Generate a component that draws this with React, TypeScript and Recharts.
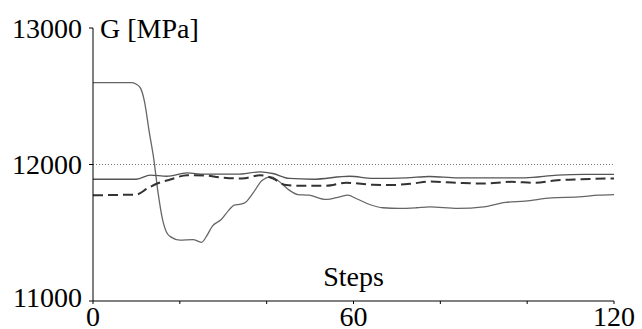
import React from 'react';
import { LineChart, Line, XAxis, YAxis, ReferenceLine, Label } from 'recharts';

const FONT = "'Liberation Serif', 'Times New Roman', Times, serif";

// Tick definitions
const xTicks = [0, 20, 40, 60, 80, 100, 120];
const xLabelTicks = [0, 60, 120];
const yTicks = [11000, 12000, 13000];
const referenceValue = 12000;

// Series 1: thin solid line with the large drop
const stepsA = [0, 9, 10, 11, 11.8, 13, 14, 15, 16, 17, 18, 20, 23, 25, 26.3, 27.5, 29.4, 31.3, 32.5, 34, 35, 36.8, 39, 41, 42.5, 45.2, 47.2, 49.8, 53.7, 56.8, 58.7, 60.6, 63.7, 66.8, 70.6, 74.5, 77.5, 84, 90, 95, 99.5, 105.6, 111.8, 116.4, 120];
const valuesA = [12600, 12600, 12588, 12556, 12470, 12230, 12040, 11790, 11600, 11500, 11468, 11446, 11450, 11430, 11483, 11549, 11593, 11666, 11702, 11710, 11720, 11788, 11885, 11909, 11885, 11812, 11780, 11775, 11744, 11763, 11775, 11751, 11707, 11683, 11678, 11683, 11690, 11678, 11690, 11722, 11732, 11756, 11763, 11775, 11780];

// Series 2: thin solid nearly flat line
const stepsB = [0, 10, 13.2, 17, 21.7, 25.5, 33.2, 38.5, 41.4, 45.2, 50.6, 59.1, 64.5, 72.2, 77.5, 84, 92, 99.5, 107, 113.3, 120];
const valuesB = [11892, 11892, 11922, 11914, 11938, 11929, 11929, 11946, 11934, 11898, 11892, 11914, 11898, 11902, 11912, 11902, 11902, 11902, 11922, 11927, 11927];

// Series 3: dashed line
const stepsC = [0, 10, 12.5, 14.8, 17.8, 21.7, 25.5, 29.4, 33.2, 35, 38.5, 41.4, 44.5, 49.1, 53.7, 58.3, 64.5, 68.3, 73.7, 77.5, 84, 90, 96.4, 101.8, 107, 112.5, 119, 120];
const valuesC = [11775, 11780, 11824, 11861, 11890, 11922, 11920, 11905, 11898, 11900, 11922, 11898, 11849, 11844, 11844, 11866, 11851, 11849, 11861, 11875, 11866, 11861, 11873, 11866, 11885, 11892, 11898, 11898];

const dataA = stepsA.map((s, i) => ({ step: s, g: valuesA[i] }));
const dataB = stepsB.map((s, i) => ({ step: s, g: valuesB[i] }));
const dataC = stepsC.map((s, i) => ({ step: s, g: valuesC[i] }));

const textStyle: React.CSSProperties = { fontFamily: FONT, fontSize: 28, fill: '#000' };

const XTick = (props: any) => {
  const { x, y, payload } = props;
  if (!xLabelTicks.includes(payload.value)) return <g />;
  return (
    <text x={x} y={y} dy="0.71em" textAnchor="middle" style={textStyle}>
      {payload.value}
    </text>
  );
};

const YTick = (props: any) => {
  const { x, y, payload } = props;
  // the lowest label sits slightly above its tick in the reference
  const lift = payload.value === yTicks[0] ? -4 : 0;
  return (
    <text x={x} y={y + lift} dy="0.355em" textAnchor="end" style={textStyle}>
      {payload.value}
    </text>
  );
};

const YTitle = (props: any) => {
  const vb = props.viewBox || {};
  return (
    <text x={vb.x + vb.width + 7} y={vb.y} dy="0.355em" textAnchor="start" style={textStyle}>
      G [MPa]
    </text>
  );
};

const StepsTitle = (props: any) => {
  const vb = props.viewBox || {};
  return (
    <text x={vb.x + vb.width / 2} y={vb.y - 15} textAnchor="middle" style={textStyle}>
      Steps
    </text>
  );
};

export default function App() {
  return (
    <div style={{ position: 'absolute', left: 0, top: 0, background: '#fff', fontFamily: FONT }}>
      <LineChart width={642} height={329} margin={{ top: 28, right: 28, bottom: 0, left: 0 }} style={{ fontFamily: FONT }}>
        <XAxis
          type="number"
          dataKey="step"
          domain={[0, 120]}
          ticks={xTicks}
          interval={0}
          height={28}
          tickSize={3}
          tickMargin={2}
          axisLine={{ stroke: '#000', strokeWidth: 1 }}
          tickLine={{ stroke: '#000', strokeWidth: 1 }}
          tick={<XTick />}
          allowDataOverflow
        >
          <Label content={<StepsTitle />} />
        </XAxis>
        <YAxis
          type="number"
          domain={[11000, 13000]}
          ticks={yTicks}
          interval={0}
          width={93}
          tickSize={4}
          tickMargin={7}
          axisLine={{ stroke: '#000', strokeWidth: 1 }}
          tickLine={{ stroke: '#000', strokeWidth: 1 }}
          tick={<YTick />}
          allowDataOverflow
        >
          <Label content={<YTitle />} />
        </YAxis>
        <ReferenceLine y={referenceValue} stroke="#777" strokeWidth={1} strokeDasharray="1 2" />
        <Line data={dataA} dataKey="g" type="monotone" stroke="#666" strokeWidth={1.3} dot={false} isAnimationActive={false} />
        <Line data={dataB} dataKey="g" type="monotone" stroke="#555" strokeWidth={1.3} dot={false} isAnimationActive={false} />
        <Line data={dataC} dataKey="g" type="monotone" stroke="#333" strokeWidth={2} strokeDasharray="10 5" dot={false} isAnimationActive={false} />
      </LineChart>
    </div>
  );
}
